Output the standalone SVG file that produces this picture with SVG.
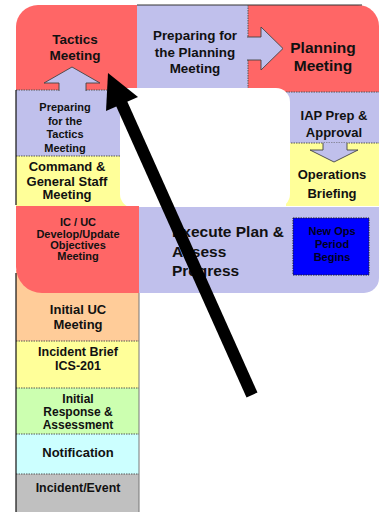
<svg xmlns="http://www.w3.org/2000/svg" width="380" height="512" viewBox="0 0 380 512">
<style>
text{font-family:"Liberation Sans",Arial,sans-serif;font-weight:bold;fill:#111;text-anchor:middle}
.red{fill:#ff6666}.pur{fill:#c0c0ec}.yel{fill:#ffff99}.org{fill:#ffcc99}.grn{fill:#ccffb0}.cyn{fill:#ccffff}.gry{fill:#c0c0c0}
.sep{stroke:#555;stroke-width:1;stroke-dasharray:1.5 1;fill:none}
.arr{fill:#c0c0ec;stroke:#444;stroke-width:0.9}
</style>
<rect width="380" height="512" fill="#fff"/>
<g id="tactics-meeting">
<path class="red" d="M16,27 A22,22 0 0 1 38,5 H137 V90 H16 Z"/>
<text x="75" y="44" font-size="13.5">Tactics</text>
<text x="75" y="60" font-size="13.5">Meeting</text>
</g>
<g id="prep-planning">
<rect class="pur" x="137" y="5" width="111" height="83"/>
<text x="195" y="40" font-size="13.4">Preparing for</text>
<text x="195" y="57" font-size="13.4">the Planning</text>
<text x="195" y="73" font-size="13.4">Meeting</text>
</g>
<g id="planning-meeting">
<path class="red" d="M248,5 H358 A21,21 0 0 1 379,26 V92 H248 Z"/>
<text x="323" y="52.5" font-size="15.5">Planning</text>
<text x="323" y="70.5" font-size="15.5">Meeting</text>
</g>
<line x1="137" y1="5" x2="362" y2="5" stroke="#333" stroke-width="1"/>
<line class="sep" x1="248" y1="5" x2="248" y2="88"/>
<g id="iap-prep">
<rect class="pur" x="286" y="92" width="93" height="51"/>
<text x="334" y="120" font-size="13">IAP Prep &amp;</text>
<text x="334" y="137" font-size="13">Approval</text>
</g>
<g id="ops-briefing">
<rect class="yel" x="286" y="143" width="93" height="63"/>
<text x="332" y="178.5" font-size="13">Operations</text>
<text x="332" y="197.5" font-size="13">Briefing</text>
</g>
<line class="sep" x1="286" y1="92" x2="379" y2="92"/>
<line class="sep" x1="286" y1="143" x2="379" y2="143"/>
<g id="prep-tactics">
<rect class="pur" x="16" y="90" width="123" height="66"/>
<text x="65" y="111" font-size="11">Preparing</text>
<text x="65" y="124.5" font-size="11">for the</text>
<text x="65" y="138" font-size="11">Tactics</text>
<text x="65" y="151.5" font-size="11">Meeting</text>
</g>
<g id="command-general-staff">
<rect class="yel" x="16" y="156" width="123" height="50"/>
<text x="67" y="171" font-size="13">Command &amp;</text>
<text x="67" y="185.5" font-size="13">General Staff</text>
<text x="67" y="199" font-size="13">Meeting</text>
</g>
<line class="sep" x1="16" y1="90" x2="120" y2="90"/>
<line class="sep" x1="16" y1="156" x2="120" y2="156"/>
<line x1="16" y1="90" x2="16" y2="205" stroke="#111" stroke-width="1.2"/>
<path id="center-space" d="M120,88 H276 A14,14 0 0 1 290,102 V194 A14,14 0 0 1 276,208 H134 A14,14 0 0 1 120,194 Z" fill="#fff"/>
<g id="initial-uc">
<rect class="org" x="16" y="270" width="123" height="71"/>
<text x="78" y="314" font-size="13">Initial UC</text>
<text x="78" y="328.5" font-size="13">Meeting</text>
</g>
<g id="ic-uc-objectives">
<path class="red" d="M16,206 H139 V293 H42 A26,26 0 0 1 16,267 Z"/>
<text x="78" y="226" font-size="11">IC / UC</text>
<text x="78" y="237.5" font-size="11">Develop/Update</text>
<text x="78" y="249" font-size="11">Objectives</text>
<text x="78" y="259.5" font-size="11">Meeting</text>
</g>
<g id="execute-plan">
<path class="pur" d="M139,207 H379 V278 A15,15 0 0 1 364,293 H139 Z"/>
<text x="172" y="236.5" font-size="15.5" style="text-anchor:start">Execute Plan &amp;</text>
<text x="172" y="256.5" font-size="15.5" style="text-anchor:start">Assess</text>
<text x="172" y="275.5" font-size="15.5" style="text-anchor:start">Progress</text>
</g>
<g id="new-ops-period">
<rect x="293" y="218" width="76" height="57" fill="#0000ff" stroke="#223" stroke-width="1" stroke-dasharray="1.5 1"/>
<text x="332" y="235" font-size="11" style="fill:#000022">New Ops</text>
<text x="332" y="248" font-size="11" style="fill:#000022">Period</text>
<text x="332" y="261" font-size="11" style="fill:#000022">Begins</text>
</g>
<g id="incident-brief">
<rect class="yel" x="16" y="341" width="123" height="47"/>
<text x="78" y="355.5" font-size="12.5">Incident Brief</text>
<text x="78" y="369.5" font-size="12.5">ICS-201</text>
</g>
<g id="initial-response">
<rect class="grn" x="16" y="388" width="123" height="46"/>
<text x="78" y="402.5" font-size="12">Initial</text>
<text x="78" y="415.5" font-size="12">Response &amp;</text>
<text x="78" y="428.5" font-size="12">Assessment</text>
</g>
<g id="notification">
<rect class="cyn" x="16" y="434" width="123" height="40"/>
<text x="78" y="456.5" font-size="13">Notification</text>
</g>
<g id="incident-event">
<rect class="gry" x="16" y="474" width="123" height="38"/>
<text x="78" y="491.5" font-size="12.4">Incident/Event</text>
</g>
<g id="column-lines">
<line class="sep" x1="16" y1="341" x2="139" y2="341"/>
<line class="sep" x1="16" y1="388" x2="139" y2="388"/>
<line class="sep" x1="16" y1="434" x2="139" y2="434"/>
<line class="sep" x1="16" y1="474" x2="139" y2="474"/>
<line x1="16" y1="273" x2="16" y2="512" stroke="#111" stroke-width="1.2"/>
<line x1="139" y1="293" x2="139" y2="512" stroke="#777" stroke-width="1"/>
</g>
<g id="connectors">
<path class="arr" d="M59,91 V83 H44 L72,67 L100,83 H86 V91"/>
<path class="arr" d="M247,37 H261 V27 L283,48.5 L261,70 V60 H247"/>
<path class="arr" d="M323,143 V150 H310 L334,162 L358,150 H347 V143"/>
<line x1="252" y1="395" x2="120" y2="100" stroke="#000" stroke-width="12"/>
<polygon points="108,73 138,97 106,111" fill="#000"/>
</g>
</svg>
